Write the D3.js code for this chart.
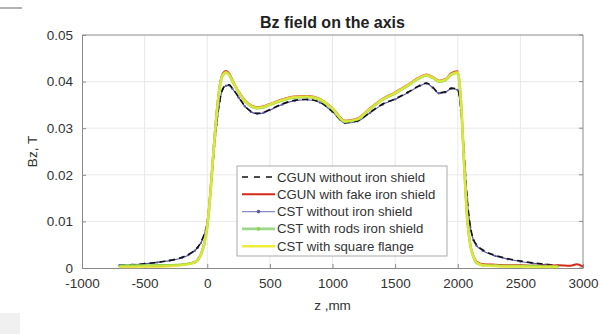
<!DOCTYPE html>
<html>
<head>
<meta charset="utf-8">
<script src="https://cdn.jsdelivr.net/npm/d3@7"></script>
<style>
  body { margin: 0; background: #fff; }
  text { font-family: "Liberation Sans", Arial, sans-serif; }
</style>
</head>
<body>
<svg id="chart" width="600" height="334"></svg>
<script>
// z positions (mm) shared by the curves
const zGrid = [ -700, -600, -500, -400, -300, -200, -150, -100, -75, -50, -25, 0, 25, 50, 75,
  100, 125, 150, 175, 200, 250, 300, 350, 400, 450, 500, 600, 700, 800, 900,
  1000, 1100, 1200, 1300, 1400, 1500, 1600, 1700, 1750, 1800, 1850, 1900, 1950, 2000, 2025,
  2050, 2075, 2100, 2125, 2150, 2200, 2300, 2400, 2500, 2600, 2700, 2800 ];
const zRedTail = [ 2900, 2950, 3000 ];

const cgunNoShield = [ .0005, .0007, .0009, .0012, .0016, .0023, .0029, .0038, .0045, .0056, .0072, .0098, .016, .024, .031,
  .036, .0385, .0392, .0393, .0386, .0367, .0348, .0336, .0332, .0334, .034, .0352, .036, .0362, .0356,
  .0336, .0312, .0316, .0334, .0352, .0363, .0377, .0392, .0397, .0388, .0376, .0378, .0386, .0383, .034,
  .025, .015, .009, .0062, .005, .0039, .0027, .002, .0015, .0011, .0008, .0005 ];
const cgunFakeShield = [ .0003, .0003, .0004, .0004, .0005, .0007, .0009, .0013, .0019, .0031, .0053, .0092, .0165, .0255, .0335,
  .0393, .0418, .0423, .0417, .0404, .0379, .036, .0349, .0345, .0347, .0352, .0362, .0368, .0369, .0363,
  .0343, .0316, .0321, .0343, .0363, .0377, .0393, .041, .0415, .041, .0402, .0405, .0418, .0422, .036,
  .023, .011, .005, .0026, .0014, .0008, .0007, .0006, .0006, .0005, .0005, .0006, .0005, .0008, .0003 ];
const cstNoShield = [ .0006, .0007, .0009, .0012, .0016, .0022, .0028, .0037, .0044, .0054, .0071, .0097, .0158, .0238, .0308,
  .0358, .0384, .0391, .0392, .0385, .0366, .0347, .0335, .0331, .0333, .0339, .0351, .0359, .0361, .0355,
  .0335, .0311, .0315, .0333, .0351, .0362, .0376, .0391, .0396, .0387, .0375, .0377, .0385, .0382, .0338,
  .0248, .0148, .0088, .006, .0048, .0037, .0026, .0019, .0014, .001, .0007, .0005 ];
const cstRodsShield = [ .0004, .0005, .0005, .0006, .0006, .0007, .0009, .0012, .0017, .0029, .005, .0088, .0158, .0248, .0328,
  .0388, .0414, .0419, .0414, .0401, .0377, .0358, .0347, .0343, .0345, .035, .036, .0366, .0367, .0361,
  .0341, .0314, .0319, .0341, .0361, .0375, .0391, .0408, .0413, .0408, .04, .0403, .0415, .0419, .0358,
  .0228, .0108, .0049, .0024, .0011, .0006, .0005, .0004, .0004, .0004, .0003, .0003 ];
const cstSquareFlange = [ .0002, .0002, .0003, .0003, .0004, .0006, .0008, .0012, .0018, .003, .0052, .009, .016, .025, .033,
  .039, .0415, .042, .0414, .0402, .0378, .0359, .0348, .0344, .0346, .0351, .0361, .0367, .0368, .0362,
  .0342, .0315, .032, .0342, .0362, .0376, .0392, .0409, .0414, .0409, .0401, .0404, .0416, .042, .036,
  .023, .011, .005, .0025, .0012, .0006, .0004, .0003, .0003, .0002, .0002, .0002 ];

const xTicks = [ -1000, -500, 0, 500, 1000, 1500, 2000, 2500, 3000 ];
const yTicks = [ 0, 0.01, 0.02, 0.03, 0.04, 0.05 ];
const legendNames = [ "CGUN without iron shield", "CGUN with fake iron shield", "CST without iron shield",
  "CST with rods iron shield", "CST with square flange" ];

const svg = d3.select( "#chart" );
const M = { top: 35, right: 17, bottom: 66, left: 82 };
const W = 600, H = 334;

const x = d3.scaleLinear().domain( [ -1000, 3000 ] ).range( [ M.left, W - M.right ] );
const y = d3.scaleLinear().domain( [ 0, 0.05 ] ).range( [ H - M.bottom, M.top ] );

// screenshot leftovers
svg.append( "line" ).attr( "x1", 0 ).attr( "x2", 22 ).attr( "y1", 8 ).attr( "y2", 8 )
  .attr( "stroke", "#999" ).attr( "stroke-width", 1.5 );
svg.append( "rect" ).attr( "x", 0 ).attr( "y", 313 ).attr( "width", 20 ).attr( "height", 21 ).attr( "fill", "#f0f0f0" );

// grid
svg.append( "g" ).selectAll( "line" ).data( xTicks.slice( 1, -1 ) ).enter().append( "line" )
  .attr( "x1", d => x( d ) ).attr( "x2", d => x( d ) )
  .attr( "y1", y( 0 ) ).attr( "y2", y( 0.05 ) )
  .attr( "stroke", "#e8e8e8" ).attr( "stroke-width", 1 );
svg.append( "g" ).selectAll( "line" ).data( yTicks.slice( 1, -1 ) ).enter().append( "line" )
  .attr( "x1", x( -1000 ) ).attr( "x2", x( 3000 ) )
  .attr( "y1", d => y( d ) ).attr( "y2", d => y( d ) )
  .attr( "stroke", "#e8e8e8" ).attr( "stroke-width", 1 );

// axes
const xAxis = d3.axisBottom( x ).tickValues( xTicks ).tickSizeInner( -4 ).tickSizeOuter( 0 ).tickPadding( 10 )
  .tickFormat( d => String( d ) );
const yAxis = d3.axisLeft( y ).tickValues( yTicks ).tickSizeInner( -4 ).tickSizeOuter( 0 ).tickPadding( 9 )
  .tickFormat( d => d === 0 ? "0" : d.toFixed( 2 ) );

const gx = svg.append( "g" ).attr( "transform", `translate(0,${y( 0 )})` ).call( xAxis );
const gy = svg.append( "g" ).attr( "transform", `translate(${x( -1000 )},0)` ).call( yAxis );
[ gx, gy ].forEach( g => {
  g.select( ".domain" ).attr( "stroke", "#8a8a8a" );
  g.selectAll( ".tick line" ).attr( "stroke", "#8a8a8a" );
  g.selectAll( ".tick text" ).attr( "fill", "#333" ).style( "font-size", "13.5px" );
} );

// box top and right
svg.append( "line" ).attr( "x1", x( -1000 ) ).attr( "x2", x( 3000 ) ).attr( "y1", y( 0.05 ) ).attr( "y2", y( 0.05 ) )
  .attr( "stroke", "#8a8a8a" );
svg.append( "line" ).attr( "x1", x( 3000 ) ).attr( "x2", x( 3000 ) ).attr( "y1", y( 0 ) ).attr( "y2", y( 0.05 ) )
  .attr( "stroke", "#8a8a8a" );
svg.append( "g" ).selectAll( "line" ).data( yTicks ).enter().append( "line" )
  .attr( "x1", x( 3000 ) - 4 ).attr( "x2", x( 3000 ) ).attr( "y1", d => y( d ) ).attr( "y2", d => y( d ) )
  .attr( "stroke", "#8a8a8a" );

// curves
const line = d3.line().x( d => x( d[0] ) ).y( d => y( d[1] ) ).curve( d3.curveMonotoneX );
const pts = ( zs, bs ) => bs.map( ( b, i ) => [ zs[i], b ] );
const zRed = zGrid.concat( zRedTail );

const series = [
  { name: legendNames[2], data: pts( zGrid, cstNoShield ), color: "#5a5aa8", width: 1.2, dash: null, dots: true },
  { name: legendNames[0], data: pts( zGrid, cgunNoShield ), color: "#111", width: 1.6, dash: "6,4", dots: false },
  { name: legendNames[1], data: pts( zRed, cgunFakeShield ), color: "#d42a1a", width: 2, dash: null, dots: false },
  { name: legendNames[3], data: pts( zGrid, cstRodsShield ), color: "#8fd448", width: 2.6, dash: null, dots: true },
  { name: legendNames[4], data: pts( zGrid, cstSquareFlange ), color: "#eeee3a", width: 2.6, dash: null, dots: false, opacity: 0.75 },
];

const plot = svg.append( "g" );
series.forEach( s => {
  plot.append( "path" ).datum( s.data )
    .attr( "d", line )
    .attr( "fill", "none" )
    .attr( "stroke", s.color )
    .attr( "stroke-width", s.width )
    .attr( "stroke-dasharray", s.dash )
    .attr( "stroke-opacity", s.opacity || 1 );
  if ( s.dots )
    plot.append( "g" ).selectAll( "circle" ).data( s.data ).enter().append( "circle" )
      .attr( "cx", d => x( d[0] ) ).attr( "cy", d => y( d[1] ) ).attr( "r", 1.2 )
      .attr( "fill", s.color );
} );

// title and labels
svg.append( "text" ).attr( "x", x( 1000 ) ).attr( "y", 28 ).attr( "text-anchor", "middle" )
  .style( "font-size", "16px" ).style( "font-weight", "bold" ).attr( "fill", "#222" )
  .text( "Bz field on the axis" );
svg.append( "text" ).attr( "transform", `translate(37,${( y( 0 ) + y( 0.05 ) ) / 2}) rotate(-90)` )
  .attr( "text-anchor", "middle" ).style( "font-size", "13.5px" ).attr( "fill", "#333" )
  .text( "Bz, T" );
svg.append( "text" ).attr( "x", x( 1000 ) ).attr( "y", 310 ).attr( "text-anchor", "middle" )
  .style( "font-size", "13.5px" ).attr( "fill", "#333" )
  .text( "z ,mm" );

// legend
const legend = svg.append( "g" ).attr( "transform", "translate(237,166)" );
legend.append( "rect" ).attr( "width", 210 ).attr( "height", 90 )
  .attr( "fill", "#fff" ).attr( "stroke", "#aaa" ).attr( "stroke-width", 1 );
const legendOrder = [ 1, 2, 0, 3, 4 ];
legendOrder.forEach( ( si, i ) => {
  const s = series[si];
  const ly = 11 + i * 17.3;
  const lc = si === 0 ? "#8a8ac8" : si === 3 ? "#9ad88a" : s.color;
  legend.append( "line" ).attr( "x1", 5 ).attr( "x2", 38 ).attr( "y1", ly ).attr( "y2", ly )
    .attr( "stroke", lc ).attr( "stroke-width", s.width )
    .attr( "stroke-dasharray", s.dash ? "6,6" : null );
  if ( s.dots )
    legend.append( "circle" ).attr( "cx", 21.5 ).attr( "cy", ly ).attr( "r", 1.8 ).attr( "fill", s.color );
  legend.append( "text" ).attr( "x", 40 ).attr( "y", ly + 4.5 )
    .style( "font-size", "13.2px" ).attr( "fill", "#333" ).text( s.name );
} );
</script>
</body>
</html>
